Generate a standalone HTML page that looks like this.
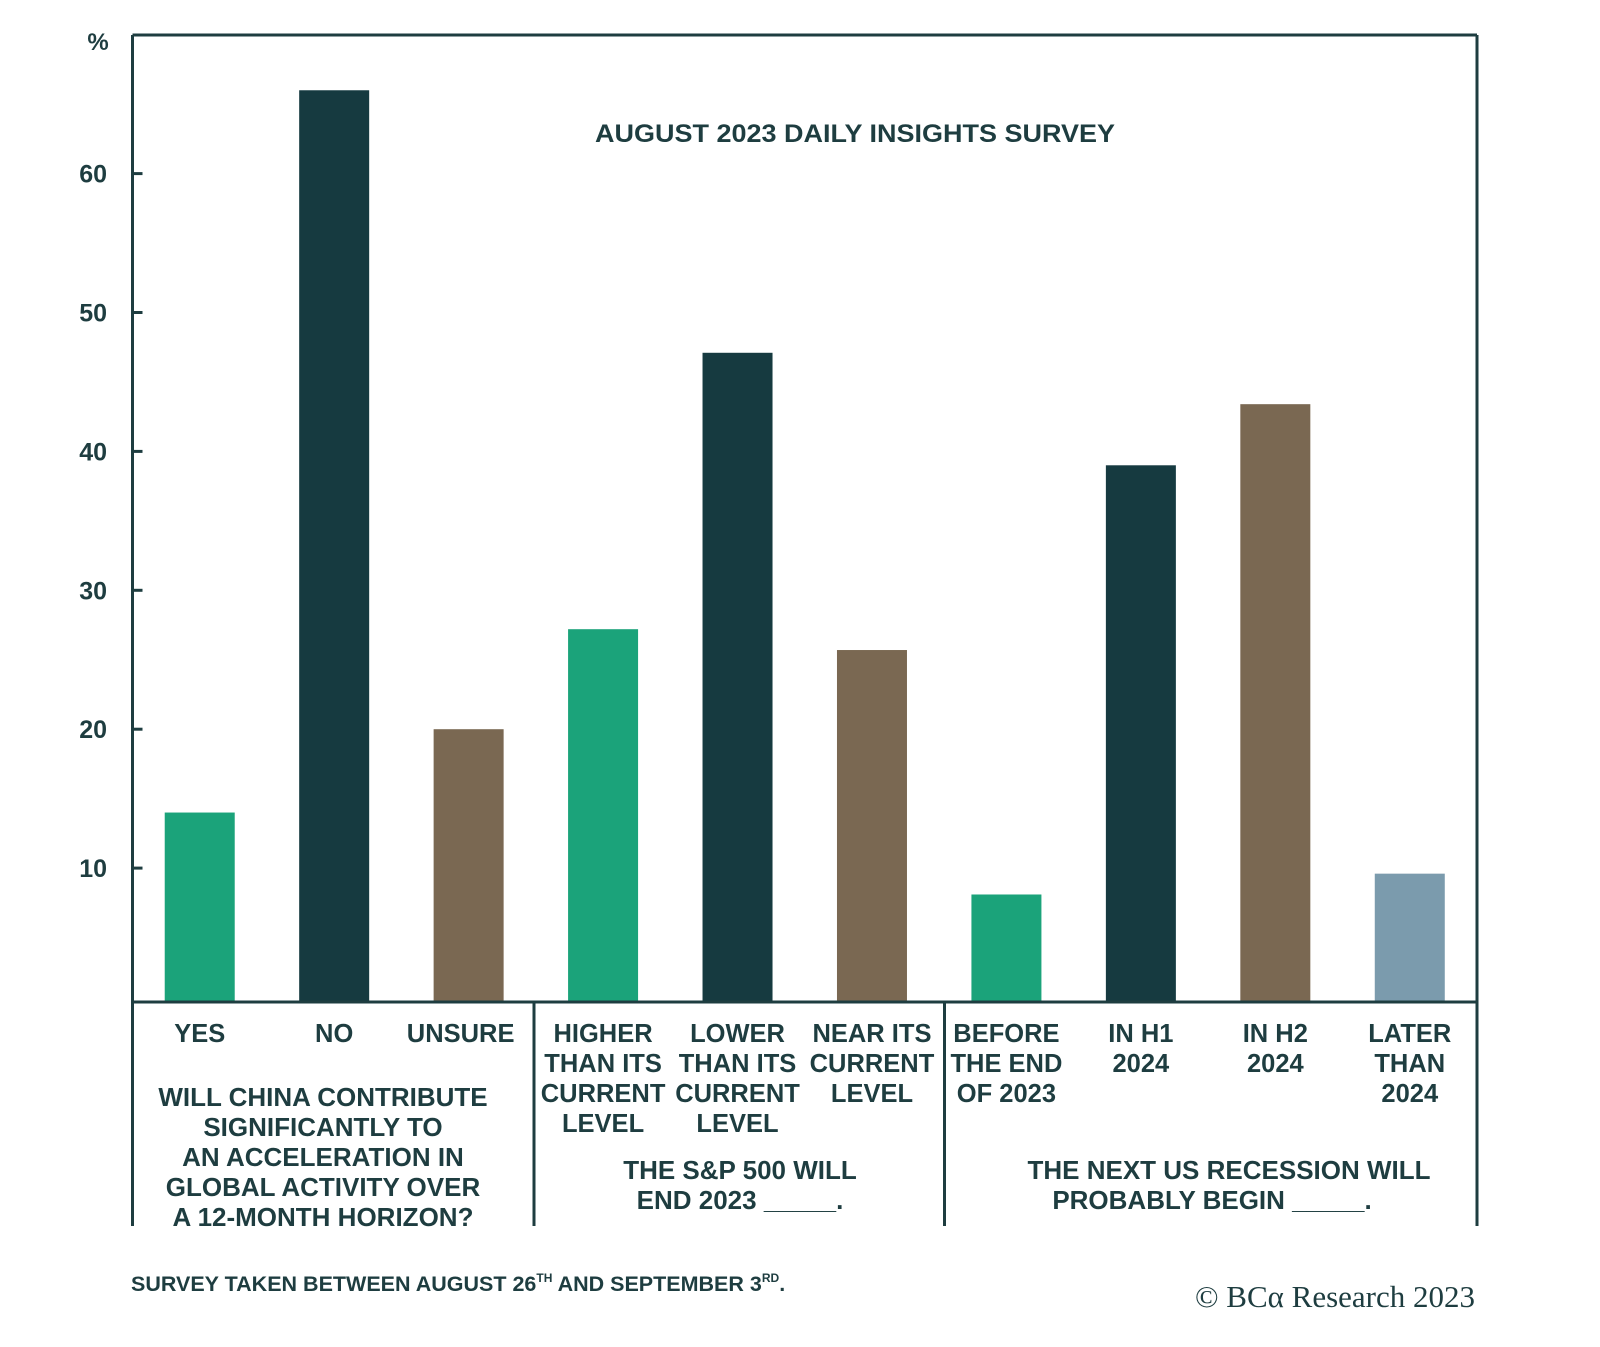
<!DOCTYPE html>
<html><head><meta charset="utf-8"><style>
html,body{margin:0;padding:0;background:#fff;}
svg{display:block;font-family:"Liberation Sans",sans-serif;}
</style></head><body>
<svg id="chart" width="1600" height="1347" viewBox="0 0 1600 1347" xmlns="http://www.w3.org/2000/svg">
<g id="frame" stroke="#1e3d40" stroke-width="3" fill="none">
  <line x1="132.5" y1="35" x2="1477" y2="35"/>
  <line x1="132.5" y1="35" x2="132.5" y2="1226"/>
  <line x1="1477" y1="35" x2="1477" y2="1226"/>
  <line x1="132.5" y1="1002" x2="1477" y2="1002"/>
  <line x1="534" y1="1002" x2="534" y2="1226"/>
  <line x1="944.5" y1="1002" x2="944.5" y2="1226"/>
</g>
<text x="98" y="50" text-anchor="middle" font-size="24" font-weight="bold" fill="#1e3d40">%</text>
<text x="855" y="142" text-anchor="middle" font-size="25" font-weight="bold" fill="#1e3d40" textLength="520" lengthAdjust="spacingAndGlyphs">AUGUST 2023 DAILY INSIGHTS SURVEY</text>
<g id="ticks"></g>
<g id="bars"></g>
<g id="labels"></g>
<g font-weight="bold" font-size="26" fill="#1e3d40" text-anchor="middle">
  <g>
    <text x="323" y="1106">WILL CHINA CONTRIBUTE</text>
    <text x="323" y="1136">SIGNIFICANTLY TO</text>
    <text x="323" y="1166">AN ACCELERATION IN</text>
    <text x="323" y="1196">GLOBAL ACTIVITY OVER</text>
    <text x="323" y="1226">A 12-MONTH HORIZON?</text>
  </g>
  <g>
    <text x="740" y="1179">THE S&amp;P 500 WILL</text>
    <text x="740" y="1209">END 2023 _____.</text>
  </g>
  <g>
    <text x="1229" y="1179">THE NEXT US RECESSION WILL</text>
    <text x="1212" y="1209">PROBABLY BEGIN _____.</text>
  </g>
</g>
<text x="131" y="1291" font-size="21.5" font-weight="bold" fill="#1e3d40">SURVEY TAKEN BETWEEN AUGUST 26<tspan font-size="12" dy="-9">TH</tspan><tspan dy="9"> AND SEPTEMBER 3</tspan><tspan font-size="12" dy="-9">RD</tspan><tspan dy="9">.</tspan></text>
<text x="1475" y="1307" text-anchor="end" font-size="31" font-family="Liberation Serif, serif" fill="#1e3d40">© BCα Research 2023</text>
</svg>
<script>
const categories = [["YES"],["NO"],["UNSURE"],["HIGHER","THAN ITS","CURRENT","LEVEL"],["LOWER","THAN ITS","CURRENT","LEVEL"],["NEAR ITS","CURRENT","LEVEL"],["BEFORE","THE END","OF 2023"],["IN H1","2024"],["IN H2","2024"],["LATER","THAN","2024"]];
const values = [14, 66, 20, 27.2, 47.1, 25.7, 8.1, 39, 43.4, 9.6];
const colorKeys = ["yes","no","unsure","yes","no","unsure","yes","no","unsure","later"];
const yTicks = [10, 20, 30, 40, 50, 60];

const NS = "http://www.w3.org/2000/svg";
const colors = {yes:"#1ba37a", no:"#163a40", unsure:"#7a6852", later:"#7b9bad"};
const plotL = 132.5, plotR = 1477, base = 1002;
const y0 = 1007, pxPer = 13.89;
function yScale(v){ return y0 - v * pxPer; }
const band = (plotR - plotL) / categories.length;
function xCenter(i){ return plotL + band * (i + 0.5); }
const barW = 70;

const ticksG = document.getElementById('ticks');
yTicks.forEach(t => {
  const y = yScale(t);
  const ln = document.createElementNS(NS,'line');
  ln.setAttribute('x1', plotL); ln.setAttribute('x2', plotL + 10);
  ln.setAttribute('y1', y); ln.setAttribute('y2', y);
  ln.setAttribute('stroke','#1e3d40'); ln.setAttribute('stroke-width','3');
  
  
  ticksG.appendChild(ln);
  const tx = document.createElementNS(NS,'text');
  tx.setAttribute('x', 107); tx.setAttribute('y', y + 9);
  tx.setAttribute('text-anchor','end'); tx.setAttribute('font-size','25');
  tx.setAttribute('font-weight','bold'); tx.setAttribute('fill','#1e3d40');
  tx.textContent = t;
  
  
  ticksG.appendChild(tx);
});

const barsG = document.getElementById('bars');
const labelsG = document.getElementById('labels');
values.forEach((v, i) => {
  const r = document.createElementNS(NS,'rect');
  const top = yScale(v);
  r.setAttribute('x', xCenter(i) - barW/2);
  r.setAttribute('y', top);
  r.setAttribute('width', barW);
  r.setAttribute('height', Math.max(0, base - 1.5 - top));
  r.setAttribute('fill', colors[colorKeys[i]]);
  
  
  barsG.appendChild(r);
  const t = document.createElementNS(NS,'text');
  t.setAttribute('text-anchor','middle'); t.setAttribute('font-size','25.5');
  t.setAttribute('font-weight','bold'); t.setAttribute('fill','#1e3d40');
  
  
  categories[i].forEach((line, k) => {
    const ts = document.createElementNS(NS,'tspan');
    ts.setAttribute('x', xCenter(i) - (i % 3 === 2 && i < 3 ? 8 : 0));
    ts.setAttribute('y', 1042 + k * 30);
    ts.textContent = line;
    t.appendChild(ts);
  });
  labelsG.appendChild(t);
});
</script>
</body></html>
